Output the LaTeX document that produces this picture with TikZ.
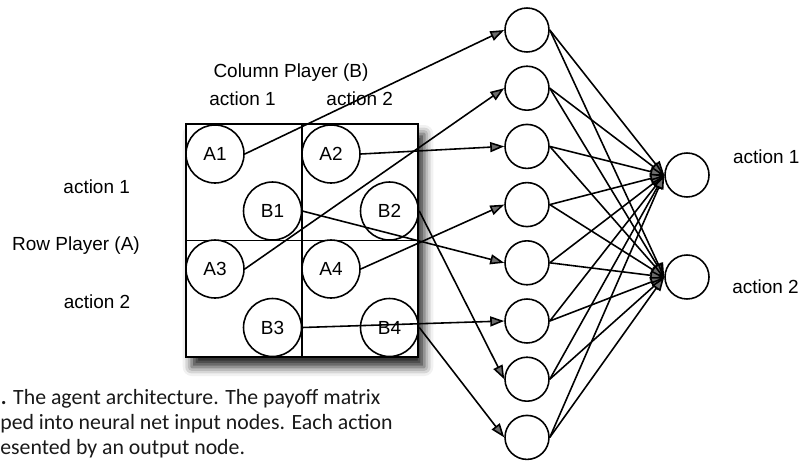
\documentclass[tikz,border=0pt]{standalone}
\usepackage{fontspec}
\setmainfont{Liberation Sans}
\newfontfamily\capfont{Carlito}
\usetikzlibrary{arrows.meta}
\usetikzlibrary{shadows.blur}

\begin{document}
\begin{tikzpicture}[x=0.02cm, y=-0.02cm,
    unit/.style={draw, circle, line width=0.9pt, minimum size=0.88cm, inner sep=0pt},
    cell/.style={draw, circle, line width=0.9pt, minimum size=1.16cm, inner sep=0pt, font=\fontsize{10.8}{13}\selectfont},
    lab/.style={font=\fontsize{10.8}{13}\selectfont, inner sep=0pt, anchor=base},
    wire/.style={line width=0.9pt, -{Triangle[length=0.28cm, width=0.2cm]}},
    caption/.style={font=\capfont\fontsize{12.4}{14.2}\selectfont, text=black!90, inner sep=0pt, anchor=base west}]
    \useasboundingbox (0,0) rectangle (807,460);

    % Payoff matrix
    \fill[white, blur shadow={shadow xshift=0.12cm, shadow yshift=-0.2cm, shadow blur radius=0.18cm, shadow opacity=85}] (185.7,124) rectangle (418.3,357);
    \draw[line width=1.2pt] (185.7,124) rectangle (418.3,357);
    \draw[line width=1.1pt] (302,124) -- (302,357) (185.7,240.5) -- (418.3,240.5);

    % Cells
    \node[cell] (a1) at (215,154) {A1};
    \node[cell] (b1) at (272.5,211) {B1};
    \node[cell] (a2) at (331,154) {A2};
    \node[cell] (b2) at (389.5,211) {B2};
    \node[cell] (a3) at (215,269) {A3};
    \node[cell] (b3) at (272.5,327.5) {B3};
    \node[cell] (a4) at (331,269) {A4};
    \node[cell] (b4) at (389.5,327.5) {B4};

    % Net
    \foreach \i in {1,...,8}
        \node[unit] (h\i) at (527,{30+(\i-1)*58.2}) {};
    \node[unit] (o1) at (687,175) {};
    \node[unit] (o2) at (687,277) {};

    % Inputs
    \draw[wire] (a1.east) -- (h1.west);
    \draw[wire] (a3.east) -- (h2.west);
    \draw[wire] (a2.east) -- (h3.west);
    \draw[wire] (a4.east) -- (h4.west);
    \draw[wire] (b1.east) -- (h5.west);
    \draw[wire] (b3.east) -- (h6.west);
    \draw[wire] (b2.east) -- (h7.west);
    \draw[wire] (b4.east) -- (h8.west);

    % Outputs
    \foreach \i in {1,...,8} {
        \draw[wire] (h\i.east) -- (o1.west);
        \draw[wire] (h\i.east) -- (o2.west);
    }

    % Labels
    \node[lab] (colp) at (291,77.5) {Column Player (B)};
    \node[lab] (colone) at (242.5,105) {action 1};
    \node[lab] (coltwo) at (359.7,105) {action 2};
    \node[lab] (rowone) at (96.7,193) {action 1};
    \node[lab] (rowp) at (76,250) {Row Player (A)};
    \node[lab] (rowtwo) at (97,308.5) {action 2};
    \node[lab, anchor=base west] (outone) at (732.7,163.5) {action 1};
    \node[lab, anchor=base west] (outtwo) at (732,293.5) {action 2};

    % Caption
    \node[caption] (capa) at (0.5,404) {\textbf{.} The agent architecture. The payoff matrix};
    \node[caption] (capb) at (0,429) {ped into neural net input nodes. Each action};
    \node[caption] (capc) at (0,454) {esented by an output node.};
\end{tikzpicture}
\end{document}
